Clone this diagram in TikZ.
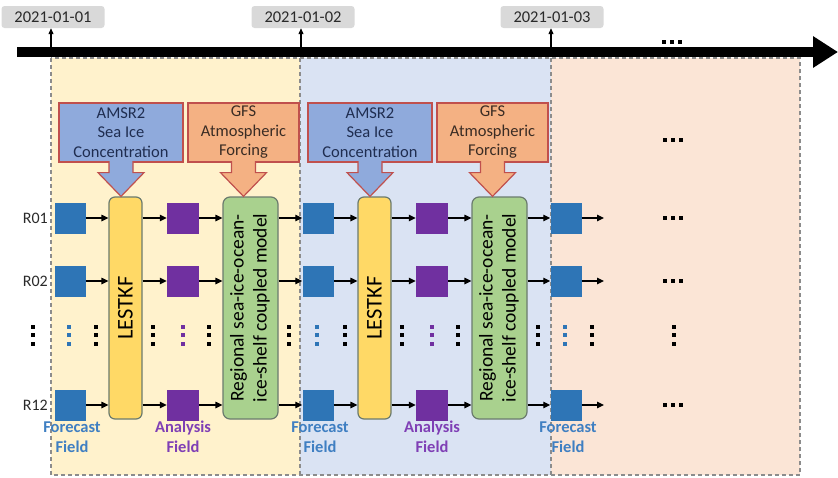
\documentclass[tikz,border=0pt]{standalone}
\usepackage{fontspec}
\usepackage{graphicx}
\setmainfont{Carlito}
\usetikzlibrary{arrows.meta,calc}
\definecolor{panelY}{HTML}{FFF2CC}
\definecolor{panelB}{HTML}{DAE3F3}
\definecolor{panelO}{HTML}{FBE5D6}
\definecolor{fcBlue}{HTML}{2E75B6}
\definecolor{fcText}{HTML}{3F7FC2}
\definecolor{anPurple}{HTML}{7030A0}
\definecolor{anText}{HTML}{7F3FB5}
\definecolor{lestY}{HTML}{FFD966}
\definecolor{modG}{HTML}{A9D18E}
\definecolor{amsrB}{HTML}{8FAADC}
\definecolor{gfsO}{HTML}{F4B183}
\definecolor{redB}{HTML}{C0504D}
\definecolor{dateG}{HTML}{D9D9D9}
\definecolor{edgeG}{HTML}{6B7B6E}
\definecolor{dashG}{HTML}{8C8C8C}
\definecolor{amsrT}{HTML}{1F2D50}
\definecolor{gfsT}{HTML}{3A2C24}
\definecolor{txtD}{HTML}{2A2A2A}

\newcommand\droparrow[3]{%
  \path (#1.south) coordinate (tmpS);
  \filldraw[fill=#3, draw=redB, line width=1.2pt, line join=miter]
    ($(tmpS)+(-12,-1.5)$) -- ($(tmpS)+(-12,10)$) -- ($(tmpS)+(-23,10)$)
    -- (tmpS |- #2.north) -- ($(tmpS)+(23,10)$) -- ($(tmpS)+(12,10)$)
    -- ($(tmpS)+(12,-1.5)$);
}

\begin{document}
\begin{tikzpicture}[x=1pt,y=-1pt,
  conn/.style={-{Triangle[length=7pt,width=6.5pt]}, line width=1.2pt},
  tickarrow/.style={-{Triangle[length=6pt,width=5pt]}, line width=1.1pt},
  datebox/.style={fill=dateG, rounded corners=3pt, minimum width=103pt, minimum height=22pt, inner sep=0pt, text=txtD, font=\fontsize{16.5}{18}\selectfont},
  panelbox/.style={draw=dashG, line width=1.1pt, dash pattern=on 4pt off 3pt},
  fcsq/.style={fill=fcBlue, minimum width=31pt, minimum height=31pt, inner sep=0pt},
  ansq/.style={fill=anPurple, minimum width=32pt, minimum height=31pt, inner sep=0pt},
  lestkf/.style={draw=edgeG, fill=lestY, line width=1.2pt, rounded corners=6pt, minimum width=33pt, minimum height=222pt, inner sep=0pt, font=\fontsize{22.5}{26}\selectfont},
  model/.style={draw=edgeG, fill=modG, line width=1.2pt, rounded corners=7pt, minimum width=55pt, minimum height=222pt, inner sep=0pt, font=\fontsize{19.5}{23}\selectfont},
  amsr/.style={draw=redB, fill=amsrB, line width=1.2pt, minimum width=124pt, minimum height=59pt, inner sep=0pt, align=center, text=amsrT, font=\fontsize{16.5}{19.5}\selectfont},
  gfs/.style={draw=redB, fill=gfsO, line width=1.2pt, minimum width=111pt, minimum height=59pt, inner sep=0pt, align=center, text=gfsT, font=\fontsize{16.5}{19.5}\selectfont},
  rowlab/.style={anchor=east, inner sep=0pt, text=txtD, font=\fontsize{16}{18}\selectfont},
  fclab/.style={align=center, inner sep=0pt, text=fcText, font=\bfseries\fontsize{16.5}{20}\selectfont},
  anlab/.style={align=center, inner sep=0pt, text=anText, font=\bfseries\fontsize{16.5}{20}\selectfont},
  vdots/.pic={\foreach \k in {-8.5,0,8.5} \fill (-2,\k-2) rectangle (2,\k+2);},
  hdots/.pic={\foreach \k in {-8,0,8} \fill (\k-2,-2) rectangle (\k+2,2);}
]
\useasboundingbox (0,0) rectangle (838,477);

% panels
\fill[panelY] (51,58) rectangle (300,475);
\fill[panelB] (300,58) rectangle (551,475);
\fill[panelO] (551,58) rectangle (800,475);
\draw[panelbox] (51,58) rectangle (800,475);
\draw[panelbox] (300,58) -- (300,475);
\draw[panelbox] (551,58) -- (551,475);

% timeline
\coordinate (tlS) at (17,52);
\coordinate (tlE) at (838,52);
\draw[line width=10pt, -{Triangle[length=25pt,width=30pt]}] (tlS) -- (tlE);

% dates
\node[datebox] (d1) at (53,17) {2021-01-01};
\node[datebox] (d2) at (303,17) {2021-01-02};
\node[datebox] (d3) at (552,17) {2021-01-03};
\coordinate (t1) at (51,48);
\coordinate (t2) at (301,48);
\coordinate (t3) at (551,48);
\draw[tickarrow] (t1) -- (t1 |- d1.south);
\draw[tickarrow] (t2) -- (t2 |- d2.south);
\draw[tickarrow] (t3) -- (t3 |- d3.south);
\pic at (672,42) {hdots};

% row labels
\node[rowlab] (R1) at (48,218) {R01};
\node[rowlab] (R2) at (48,281) {R02};
\node[rowlab] (R3) at (48,405) {R12};
\pic at (33,335) {vdots};

% forecast squares
\foreach \p/\ox in {1/0,2/248,3/496}{
  \foreach \r/\y in {1/218,2/281,3/405}{
    \node[fcsq] (F\p\r) at (70+\ox,\y) {};
  }
  \node[fclab] (FL\p) at (72+\ox,437) {Forecast\\Field};
  \pic[color=fcBlue] at (69+\ox,335) {vdots};
}

% assimilation cycles
\foreach \p/\ox/\q in {1/0/2,2/249/3}{
  \node[lestkf] (L\p) at (125.5+\ox,308) {\rotatebox{90}{LESTKF}};
  \node[model] (M\p) at (250.5+\ox,308) {\rotatebox{90}{\begin{tabular}{@{}c@{}}Regional sea-ice-ocean-\\ice-shelf coupled model\end{tabular}}};
  \node[amsr] (A\p) at (121+\ox,132.5) {AMSR2\\Sea Ice\\Concentration};
  \node[gfs] (G\p) at (243.5+\ox,132.5) {GFS\\Atmospheric\\Forcing};
  \droparrow{A\p}{L\p}{amsrB}
  \droparrow{G\p}{M\p}{gfsO}
  \foreach \r/\y in {1/218,2/281,3/405}{
    \node[ansq] (P\p\r) at (183+\ox,\y) {};
    \draw[conn] (F\p\r) -- (F\p\r -| L\p.west);
    \draw[conn] (F\p\r -| L\p.east) -- (P\p\r);
    \draw[conn] (P\p\r) -- (P\p\r -| M\p.west);
    \draw[conn] (P\p\r -| M\p.east) -- (F\q\r);
  }
  \node[anlab] (AL\p) at (183+\ox,437) {Analysis\\Field};
  \pic at (96+\ox,335) {vdots};
  \pic at (153+\ox,335) {vdots};
  \pic[color=anPurple] at (183+\ox,335) {vdots};
  \pic at (209+\ox,335) {vdots};
  \pic at (289+\ox,335) {vdots};
}

% third panel
\foreach \r/\y in {1/218,2/281,3/405}{
  \coordinate (E\r) at (604,\y);
  \draw[conn] (F3\r) -- (E\r);
  \pic at (673,\y) {hdots};
}
\pic at (673,140) {hdots};
\pic at (592,335) {vdots};
\pic at (674,335) {vdots};
\end{tikzpicture}
\end{document}
